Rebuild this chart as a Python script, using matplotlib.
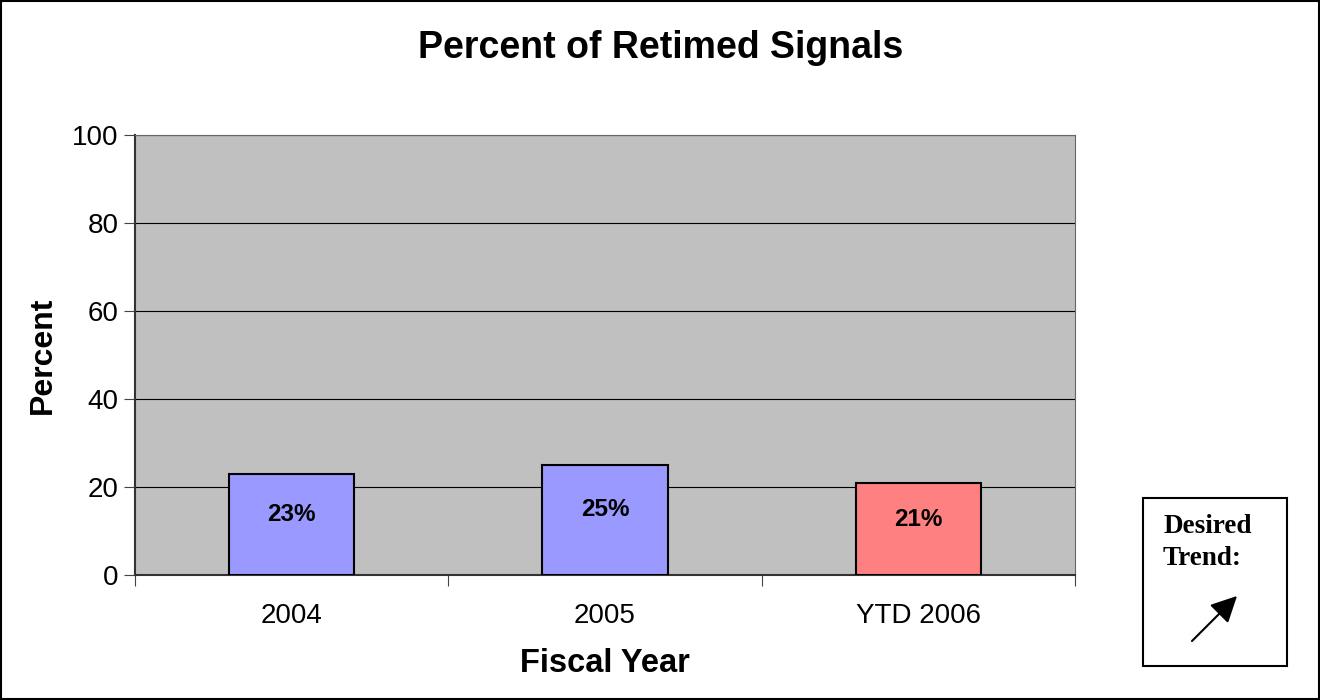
import numpy as np
import matplotlib.pyplot as plt
from matplotlib.patches import Rectangle, FancyArrowPatch

categories = ['2004', '2005', 'YTD 2006']
percents = [23, 25, 21]
bar_colors = ['#9999FF', '#9999FF', '#FF8080']
yticks = [0, 20, 40, 60, 80, 100]

plt.rcParams['font.family'] = ['Liberation Sans', 'DejaVu Sans']

fig = plt.figure(figsize=(13.2, 7), dpi=100)
ax = fig.add_axes([135/1320, 1 - 575/700, 940/1320, 440/700])
ax.set_facecolor('#C0C0C0')

x = np.arange(len(categories))
ax.bar(x, percents, width=0.40, color=bar_colors, edgecolor='black', linewidth=1.5, zorder=3)
for xi, v in zip(x, percents):
    ax.text(xi, v * 0.6, '%d%%' % v, ha='center', va='center',
            fontsize=17.5, fontweight='bold', zorder=4)

ax.set_xlim(-0.5, len(categories) - 0.5)
ax.set_ylim(0, 100)
ax.set_yticks(yticks)
ax.yaxis.grid(True, color='black', linewidth=0.8, zorder=0)
ax.set_axisbelow(True)

# category ticks sit on the boundaries, labels in the middle
ax.set_xticks(np.arange(len(categories) + 1) - 0.5)
ax.set_xticklabels([])
ax.set_xticks(x, minor=True)
ax.set_xticklabels(categories, minor=True)
ax.tick_params(axis='x', which='minor', length=0, pad=20, labelsize=20)
ax.tick_params(axis='x', which='major', length=8, width=0.8, color='#444444')
ax.tick_params(axis='y', length=8, width=0.8, color='#444444', labelsize=20, pad=4)

for side in ['left', 'bottom']:
    ax.spines[side].set_color('#333333')
    ax.spines[side].set_linewidth(1.5)
for side in ['top', 'right']:
    ax.spines[side].set_color('#666666')
    ax.spines[side].set_linewidth(0.8)

ax.set_xlabel('Fiscal Year', fontsize=23.5, fontweight='bold', labelpad=14)
ax.set_ylabel('Percent', fontsize=23, fontweight='bold', labelpad=10)
fig.text(661/1320, 1 - 48/700, 'Percent of Retimed Signals', ha='center', va='center',
         fontsize=27, fontweight='bold')

# desired trend box
fig.patches.append(Rectangle((1143/1320, 1 - 666/700), 144/1320, 168/700,
                             transform=fig.transFigure, fill=False,
                             edgecolor='black', linewidth=1.5))
fig.text(1163/1320, 1 - 514/700, 'Desired\nTrend:', ha='left', va='top',
         fontsize=19.5, fontweight='bold', family=['Liberation Serif'],
         linespacing=1.35)
fig.patches.append(FancyArrowPatch((1190/1320, 1 - 643/700), (1239/1320, 1 - 594/700),
                                   transform=fig.transFigure, arrowstyle='-|>',
                                   mutation_scale=40, color='black', linewidth=1.5))

# outer frame
fig.patches.append(Rectangle((0.0005, 0.001), 0.999, 0.998, transform=fig.transFigure,
                             fill=False, edgecolor='black', linewidth=1.5))

fig.savefig('out.png', dpi=100)
